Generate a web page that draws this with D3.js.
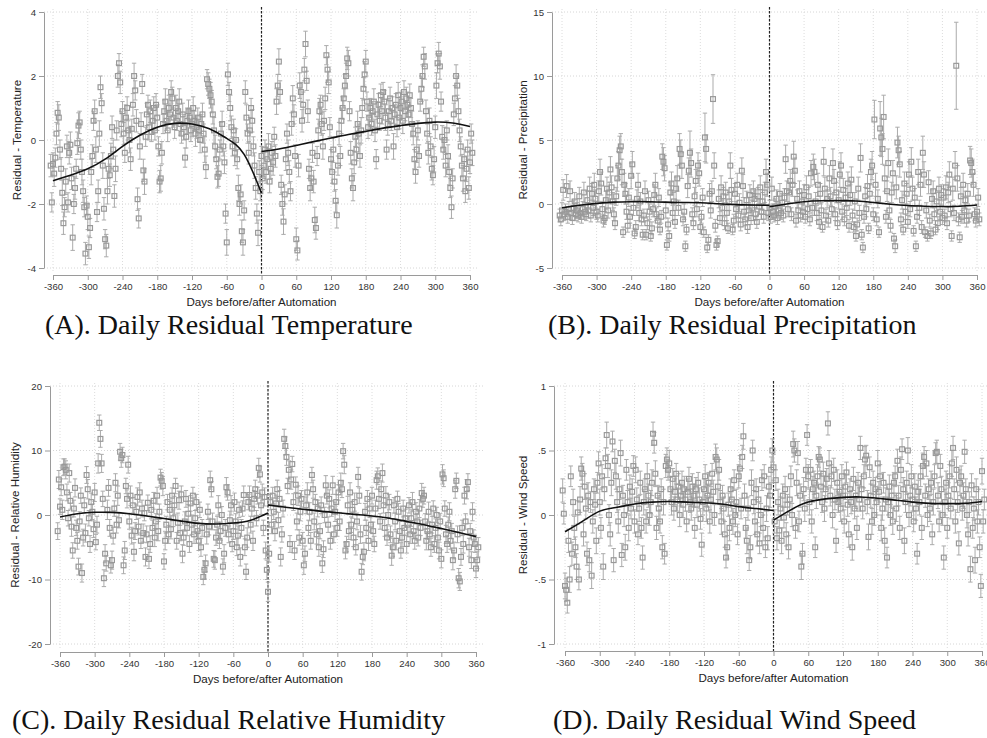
<!DOCTYPE html>
<html><head><meta charset="utf-8">
<script src="https://cdn.jsdelivr.net/npm/d3@7"></script>
<style>body{margin:0;background:#fff}svg{display:block}</style>
</head><body><svg id="chart" width="987" height="738"></svg>
<script>
// ---- axis ticks ----
const dayTicks = [-360,-300,-240,-180,-120,-60,0,60,120,180,240,300,360];
const tempTicks = [-4,-2,0,2,4];
const precipTicks = [-5,0,5,10,15];
const humidTicks = [-20,-10,0,10,20];
const windTicks = [-1,-0.5,0,0.5,1];
const windTickLabels = ["-1","-.5","0",".5","1"];

// ---- daily residuals, every second day; pre ends at day -2, post starts at day 0 ----
const tempPre = [
-0.8,-1.95,-0.75,-1.05,-0.55,0.2,0.85,0.7,-0.3,-0.9,-1.65,-2.6,-2.1,-1.3,-0.2,
-1.95,-0.4,-0.15,-1.2,-3.05,-2.0,-1.5,-0.9,-0.1,0.45,0.55,-0.3,-1.0,-1.6,-2.1,
-3.55,-2.05,-2.4,-3.35,-2.75,-1.0,-0.5,0.6,0.9,-0.3,-2.25,-1.6,0.2,1.65,1.15,
-0.8,-2.15,-3.1,-3.3,-1.6,-0.9,-1.1,-0.5,0.4,-0.3,-1.75,-0.9,0.3,2.0,2.4,
1.8,0.5,0.9,0.2,-0.4,0.7,1.0,0.3,0.0,-0.6,0.35,1.1,2.0,1.55,0.6,
-1.85,-2.45,-0.2,0.5,1.75,-0.95,-1.3,0.1,0.8,1.1,0.4,0.9,0.25,0.6,1.0,
0.3,1.1,0.7,-0.2,-1.3,-1.2,-0.4,0.5,0.9,1.2,0.6,0.3,1.0,0.8,1.5,
1.3,0.7,0.4,1.0,0.6,0.9,1.2,0.5,0.2,0.8,0.4,-0.55,0.1,0.6,0.9,
0.7,0.3,0.5,1.0,0.6,0.2,0.4,0.7,0.3,0.0,0.5,0.8,0.2,-0.3,-0.85,
1.9,1.75,1.6,1.4,1.2,0.8,0.3,-0.2,-0.6,-1.15,-1.05,-0.3,0.2,0.5,-0.2,
-0.7,-2.3,-3.2,2.05,1.5,1.0,0.4,-0.2,0.3,-0.4,0.0,-0.6,-1.5,-2.0,-1.7,
-2.85,-3.2,-2.2,1.5,0.7,0.2,-0.4,0.3,1.0,0.6,-0.2,-0.8,-1.5,-2.3,-2.9,
-1.0,-1.6];
const tempPost = [
-0.5,-1.2,-0.8,-0.3,-1.0,-0.6,-0.2,-1.3,-0.9,-0.4,-0.7,0.1,-0.5,1.2,1.7,
2.45,1.5,-1.4,-2.0,-2.55,-1.7,-0.6,0.2,-0.4,-1.0,-1.6,0.5,1.3,0.8,-0.5,
-3.1,-3.45,-0.8,1.7,1.5,0.6,1.1,2.2,3.0,1.85,0.9,-0.9,-1.5,-1.2,-0.4,
-1.3,-2.5,-2.75,-0.5,0.3,0.9,1.1,0.5,-0.2,0.6,1.3,2.65,2.2,1.8,0.4,
-0.6,-1.0,-0.3,-1.3,-1.9,-2.35,-0.8,0.2,-0.5,0.6,1.0,1.3,1.7,2.0,2.55,
2.4,0.9,-0.4,-1.2,-1.5,-0.7,0.1,-0.3,0.5,0.2,-0.5,0.3,1.0,1.6,2.05,
2.45,1.2,0.4,0.7,1.0,0.5,0.9,1.2,0.3,-0.6,0.8,1.1,0.6,1.4,0.9,
1.5,1.2,0.7,-0.3,0.5,0.9,1.3,0.6,1.0,-0.2,0.8,1.1,0.4,1.4,0.7,
1.0,1.2,0.6,1.5,0.9,1.3,1.1,0.8,1.4,1.0,0.5,0.2,-0.6,-1.0,-0.3,
0.3,-0.5,1.2,1.6,2.0,2.6,2.3,0.9,0.2,-0.4,0.6,-0.2,-0.9,-1.1,-0.6,
0.4,1.7,2.4,2.7,2.3,1.2,0.1,-0.3,0.0,-0.8,0.3,-0.5,-1.0,-1.5,-2.1,
-1.2,0.8,1.3,2.0,1.7,0.9,0.3,-0.2,-0.8,-1.2,-0.6,-1.6,-0.9,-0.3,-1.5,
-0.7,0.2,-0.4];
const tempPreCI = [
.35,.3,.35,.4,.3,.35,.35,.4,.3,.35,.4,.35,.3,.4,.35,
.3,.35,.4,.35,.4,.3,.35,.3,.35,.4,.35,.3,.4,.35,.3,
.35,.3,.4,.35,.3,.4,.35,.3,.35,.4,.3,.35,.4,.35,.3,
.4,.35,.3,.35,.4,.3,.35,.4,.35,.3,.35,.4,.3,.35,.3,
.35,.4,.3,.35,.3,.4,.35,.3,.4,.35,.3,.35,.4,.3,.35,
.35,.3,.4,.35,.3,.35,.4,.3,.35,.3,.4,.35,.3,.4,.35,
.3,.35,.4,.3,.35,.4,.35,.3,.35,.4,.3,.35,.4,.3,.35,
.35,.3,.35,.4,.3,.35,.4,.35,.3,.35,.4,.3,.35,.4,.35,
.3,.35,.4,.35,.3,.4,.35,.3,.35,.4,.3,.35,.3,.4,.35,
.3,.35,.3,.4,.35,.3,.4,.35,.3,.35,.4,.3,.35,.4,.3,
.35,.3,.4,.35,.3,.4,.35,.3,.35,.4,.35,.3,.4,.35,.3,
.35,.4,.3,.35,.4,.3,.35,.4,.3,.35,.3,.4,.35,.3,.4,
.35,.3];
const tempPostCI = [
.3,.35,.4,.3,.35,.3,.4,.35,.3,.35,.4,.3,.35,.4,.35,
.4,.35,.3,.35,.4,.3,.35,.3,.4,.35,.3,.35,.4,.3,.35,
.35,.3,.35,.4,.3,.35,.4,.35,.4,.3,.35,.3,.4,.35,.3,
.35,.4,.35,.3,.35,.4,.3,.35,.4,.3,.35,.3,.4,.35,.3,
.3,.35,.4,.3,.35,.4,.3,.35,.3,.4,.35,.3,.35,.4,.35,
.4,.3,.35,.3,.4,.35,.3,.35,.4,.3,.35,.4,.3,.35,.4,
.35,.3,.35,.4,.3,.35,.3,.4,.35,.3,.4,.35,.3,.35,.4,
.3,.35,.4,.3,.35,.4,.35,.3,.35,.4,.3,.35,.3,.4,.35,
.35,.3,.4,.35,.3,.35,.4,.3,.35,.3,.4,.35,.3,.35,.4,
.3,.35,.3,.4,.35,.3,.4,.35,.3,.35,.4,.3,.35,.3,.4,
.35,.4,.3,.35,.4,.3,.35,.3,.4,.35,.3,.35,.4,.3,.35,
.3,.35,.4,.35,.3,.4,.35,.3,.35,.4,.3,.35,.4,.3,.35,
.35,.3,.4];

const precipPre = [
-0.9,-1.2,-0.5,1.1,-0.8,-0.6,1.4,-1.0,-0.4,1.0,-0.7,-1.1,-0.3,0.2,-0.8,
-0.5,-0.9,0.6,-0.7,-1.0,-0.4,0.9,-0.6,-0.8,0.3,-0.5,1.2,-0.9,0.8,-0.3,
1.5,0.4,-0.6,-0.9,1.0,2.5,1.6,-0.4,-1.3,-1.1,0.3,1.2,-0.5,0.9,2.7,
1.3,0.2,-0.8,-1.5,0.6,2.0,3.0,4.2,4.5,2.5,-2.2,1.5,0.8,-0.6,-1.7,
0.5,-1.0,2.2,3.1,-0.3,-2.3,-1.8,0.4,1.5,-0.7,0.2,-1.2,-2.4,-0.9,1.0,
-2.4,-1.5,0.3,-0.6,-2.5,-1.9,-0.4,0.7,1.5,-0.8,-1.3,0.5,-2.0,-1.0,3.7,
3.3,2.8,-0.5,-3.2,-1.6,-2.5,0.9,1.6,-0.7,0.2,-1.4,1.2,2.0,-0.3,4.3,
3.9,3.0,-1.2,-0.6,-3.3,-2.0,1.4,2.6,4.0,3.2,-0.8,-1.5,0.6,1.8,-0.4,
3.0,2.4,-1.8,-1.0,0.5,-2.2,5.2,4.3,-3.4,-2.8,0.8,-0.5,1.0,8.2,3.0,
-1.7,-3.2,-2.9,0.4,-1.1,1.3,-0.3,0.6,-1.5,0.9,-0.7,-1.9,0.2,3.0,1.1,
-2.0,-1.3,0.8,-0.4,1.5,-0.9,0.1,-1.6,2.6,1.4,-0.6,-1.2,0.3,-1.8,-0.5,
0.7,-1.1,-0.3,1.0,0.4,-0.8,-1.4,0.6,-0.2,1.3,-0.6,0.2,-1.0,0.9,2.5,
1.5,-0.7];
const precipPost = [
-0.3,-1.0,1.2,-0.6,-0.9,-0.2,0.4,-1.1,-0.5,0.8,-0.7,0.1,-0.9,0.5,3.5,
1.0,-0.4,0.9,1.8,-0.8,1.5,3.7,2.6,-1.3,0.4,-0.5,1.0,-0.9,0.2,-0.6,
0.7,-1.0,1.3,-0.4,0.6,-1.2,2.4,-0.3,2.9,2.5,0.2,-0.7,1.5,-1.4,0.8,
-0.5,-1.8,3.3,1.2,-0.9,0.4,-1.3,2.0,0.6,-0.4,3.2,1.8,-0.8,0.9,-1.5,
0.3,2.3,3.0,-0.6,1.1,-1.2,0.5,-0.3,1.6,-1.7,0.7,1.9,-0.9,-1.8,0.2,
-2.5,-1.6,1.2,-0.7,3.6,-2.4,-3.4,-1.0,0.6,-0.4,1.4,-1.9,0.8,2.5,3.0,
-0.8,6.6,1.5,-1.2,0.4,-2.2,5.9,5.2,4.3,6.8,2.0,-1.0,1.0,3.2,-0.5,
-1.7,0.9,2.4,-2.7,-3.3,1.3,4.8,4.2,3.1,-1.2,0.3,-2.0,1.6,-0.6,0.8,
-1.4,2.3,-0.4,3.3,1.2,-2.1,0.5,-3.3,-1.0,2.5,-0.3,1.5,-1.8,4.0,2.3,
-2.2,-0.5,-2.5,1.7,-1.3,-2.3,0.4,1.0,-0.8,-2.0,0.2,-1.5,1.2,-0.6,0.7,
-1.1,0.5,-0.9,1.3,-1.5,0.9,2.3,-0.4,-2.5,1.2,-0.7,3.0,10.8,2.0,-1.2,
-2.6,0.6,-1.0,1.5,-0.5,0.3,-1.3,0.8,-0.9,3.4,3.2,2.5,1.5,-0.8,-1.3,
-0.6,0.5,-1.2];
const precipPreCI = [
.5,.5,.6,.8,.5,.6,.9,.5,.6,.8,.5,.5,.6,.7,.5,
.6,.5,.7,.5,.5,.6,.8,.6,.5,.7,.6,.9,.5,.8,.6,
.9,.7,.6,.5,.8,1.0,.9,.6,.5,.5,.7,.9,.6,.8,1.0,
.9,.7,.5,.5,.7,1.0,1.1,1.1,1.0,1.0,.4,.9,.8,.6,.5,
.7,.5,1.0,1.0,.6,.4,.5,.7,.9,.6,.7,.5,.4,.5,.8,
.4,.5,.7,.6,.4,.5,.6,.8,.9,.5,.5,.7,.4,.5,1.0,
1.1,1.0,.6,.4,.5,.4,.8,.9,.6,.7,.5,.9,1.0,.6,1.2,
1.1,1.0,.5,.6,.4,.4,.9,1.0,1.7,1.1,.5,.5,.7,.9,.6,
1.0,1.0,.5,.5,.7,.4,1.9,1.1,.4,.4,.8,.6,.8,1.9,1.0,
.5,.4,.4,.7,.5,.9,.6,.7,.5,.8,.6,.4,.7,1.0,.9,
.4,.5,.8,.6,.9,.5,.7,.5,1.0,.9,.6,.5,.7,.5,.6,
.8,.5,.6,.8,.7,.5,.5,.7,.6,.9,.6,.7,.5,.8,1.0,
.9,.6];
const precipPostCI = [
.6,.5,.9,.6,.5,.6,.7,.5,.6,.8,.5,.7,.5,.7,1.1,
.8,.6,.8,.9,.5,.9,1.2,1.0,.5,.7,.6,.8,.5,.7,.6,
.8,.5,.9,.6,.7,.5,1.0,.6,1.0,1.0,.7,.6,.9,.5,.8,
.6,.4,1.1,.9,.5,.7,.5,1.0,.7,.6,1.1,.9,.5,.8,.5,
.7,1.0,1.0,.6,.9,.5,.7,.6,.9,.5,.8,1.0,.5,.4,.7,
.4,.5,.9,.6,1.1,.4,.4,.5,.7,.6,.9,.4,.8,1.0,1.1,
.5,1.5,.9,.5,.7,.4,2.1,1.5,1.2,1.7,1.0,.5,.8,1.1,.6,
.5,.8,1.0,.4,.5,.9,1.2,1.1,1.0,.5,.7,.4,.9,.6,.8,
.5,1.0,.6,1.1,.9,.4,.7,.4,.5,1.0,.6,.9,.5,1.3,1.0,
.4,.6,.4,.9,.5,.4,.7,.8,.5,.4,.7,.5,.9,.6,.8,
.5,.7,.5,.9,.5,.8,1.0,.6,.4,.9,.6,1.1,3.4,1.0,.5,
.4,.7,.5,.9,.6,.7,.5,.8,.5,1.1,1.1,1.0,.9,.5,.5,
.6,.7,.5];

const humidPre = [
-2.5,5.5,1.3,4.3,0.8,7.4,7.5,7.0,3.5,-0.5,6.5,2.2,-1.8,-5.5,1.0,
4.2,-2.0,-4.0,-8.0,-1.0,3.0,-9.0,-3.5,1.5,-2.8,6.2,4.0,-0.5,-4.5,2.0,
0.5,-2.2,3.5,-4.2,-1.5,8.0,14.3,11.8,8.0,2.5,-9.8,-6.0,-7.5,0.8,4.2,
-2.0,-7.8,-7.0,-3.2,1.0,5.0,-1.5,3.0,-0.8,9.8,8.8,9.3,-7.8,-5.5,4.5,
2.5,7.8,-1.0,3.0,-3.2,1.5,-5.7,-2.5,0.5,2.8,-1.8,3.5,-4.0,1.0,-2.8,
0.3,-6.5,-3.0,1.9,-6.8,-4.5,0.8,-2.0,2.2,-3.5,-1.0,3.0,-2.5,0.5,5.8,
5.3,4.5,-7.2,-4.0,-1.5,2.0,-3.0,0.8,-2.2,3.0,-0.5,1.5,4.5,-4.0,-1.2,
2.3,-2.8,3.2,-6.0,-3.5,-1.0,2.5,-2.0,0.2,-4.5,1.8,-1.5,3.0,-3.0,-0.5,
2.0,-2.5,-4.0,0.8,-5.0,-2.0,-9.6,-8.5,-7.5,-3.0,0.5,-1.8,5.4,4.0,-1.0,
-6.8,-7.0,-3.5,-1.5,1.5,-4.0,-2.5,0.0,-8.0,-6.0,-2.0,4.3,3.5,-3.0,-0.8,
1.5,-4.5,-2.5,2.0,-1.0,-5.0,-3.2,0.8,-6.5,-2.0,1.0,3.1,-5.0,-8.8,-3.5,
2.0,3.1,-1.5,1.0,-4.0,2.5,4.0,-0.5,3.0,7.3,6.3,1.5,3.5,-2.0,2.8,
-5.5,-8.5];
const humidPost = [
-11.9,-6.0,2.0,-1.5,3.0,0.5,-2.5,1.8,4.0,-0.8,2.5,-6.5,-3.0,1.0,11.8,
10.7,9.0,4.5,7.0,-4.5,5.5,7.9,2.0,-5.5,4.7,-1.0,3.0,-3.5,0.5,2.5,
-4.0,-7.8,-6.0,1.5,3.5,-2.0,0.5,-4.0,6.2,4.0,-1.0,2.0,-3.0,1.0,-5.0,
-2.5,1.5,-7.5,-5.3,0.0,4.6,3.0,-1.5,2.5,-4.0,1.0,4.6,-3.0,0.5,2.0,
-2.0,3.5,-1.0,5.0,4.0,9.9,7.8,-5.5,-4.5,1.5,-2.5,3.5,-1.5,0.8,-3.5,
2.0,-5.0,-1.0,5.9,3.0,-3.0,-8.8,-6.5,-5.7,0.5,-2.0,2.5,-4.0,1.0,-1.5,
3.0,-2.5,-4.5,1.0,5.4,6.0,2.5,-1.0,4.0,6.5,1.5,-2.0,3.0,-3.5,0.0,
2.0,-3.0,-6.3,-5.0,1.5,-1.0,-4.0,2.5,0.5,-2.5,-5.5,-3.5,1.0,-2.0,-0.5,
-4.5,-1.5,1.5,-3.0,-0.5,2.0,-2.5,-4.0,0.5,-1.0,-3.5,1.0,-2.0,3.4,2.5,
3.0,-1.0,-4.0,-2.5,0.5,-3.0,-5.0,-1.5,1.0,-4.5,-2.0,0.0,-3.5,-5.5,-1.0,
-6.8,6.3,5.7,1.0,-3.0,-4.5,-1.5,0.5,-4.0,-2.5,-7.0,-5.5,4.0,5.3,-3.0,
-9.8,-10.3,-6.5,-2.0,-4.5,3.0,-1.0,4.0,5.1,-5.0,-2.5,-7.0,0.5,-3.5,-4.5,
-8.3,-7.0,-5.0];
const humidPreCI = [
1.3,1.4,1.2,1.3,1.5,1.3,1.2,1.4,1.3,1.2,1.4,1.3,1.5,1.2,1.3,
1.4,1.2,1.3,1.3,1.5,1.2,1.4,1.3,1.2,1.4,1.3,1.5,1.2,1.3,1.4,
1.2,1.3,1.4,1.2,1.3,1.5,1.2,1.3,1.4,1.2,1.3,1.4,1.2,1.5,1.3,
1.3,1.2,1.4,1.3,1.2,1.4,1.3,1.5,1.2,1.3,1.4,1.2,1.3,1.4,1.2,
1.4,1.3,1.2,1.5,1.3,1.2,1.4,1.3,1.2,1.4,1.3,1.5,1.2,1.3,1.4,
1.2,1.4,1.3,1.2,1.5,1.3,1.4,1.2,1.3,1.4,1.2,1.3,1.5,1.2,1.3,
1.3,1.5,1.2,1.4,1.3,1.2,1.4,1.3,1.5,1.2,1.3,1.4,1.2,1.3,1.5,
1.4,1.2,1.3,1.4,1.2,1.5,1.3,1.2,1.4,1.3,1.2,1.5,1.3,1.4,1.2,
1.2,1.3,1.5,1.2,1.4,1.3,1.2,1.4,1.3,1.5,1.2,1.3,1.4,1.2,1.3,
1.3,1.4,1.2,1.3,1.5,1.2,1.4,1.3,1.2,1.4,1.3,1.5,1.2,1.3,1.4,
1.5,1.2,1.3,1.4,1.2,1.3,1.5,1.2,1.4,1.3,1.2,1.4,1.3,1.2,1.5,
1.2,1.4,1.3,1.2,1.5,1.3,1.4,1.2,1.3,1.5,1.2,1.4,1.3,1.2,1.4,
1.3,1.5];
const humidPostCI = [
1.5,1.3,1.2,1.4,1.3,1.2,1.5,1.3,1.4,1.2,1.3,1.4,1.2,1.3,1.5,
1.4,1.3,1.2,1.4,1.3,1.5,1.2,1.3,1.4,1.2,1.3,1.5,1.2,1.4,1.3,
1.3,1.4,1.2,1.3,1.5,1.2,1.4,1.3,1.2,1.4,1.3,1.2,1.5,1.3,1.4,
1.2,1.3,1.4,1.3,1.2,1.5,1.3,1.2,1.4,1.3,1.2,1.4,1.3,1.5,1.2,
1.3,1.2,1.4,1.5,1.3,1.2,1.4,1.3,1.2,1.4,1.3,1.5,1.2,1.3,1.4,
1.4,1.2,1.3,1.5,1.2,1.4,1.3,1.2,1.4,1.3,1.2,1.3,1.5,1.4,1.2,
1.3,1.4,1.2,1.3,1.4,1.3,1.5,1.2,1.3,1.4,1.2,1.3,1.4,1.2,1.5,
1.2,1.3,1.5,1.4,1.2,1.3,1.4,1.2,1.3,1.5,1.2,1.4,1.3,1.2,1.4,
1.4,1.3,1.2,1.4,1.3,1.5,1.2,1.3,1.4,1.2,1.3,1.4,1.2,1.5,1.3,
1.3,1.2,1.4,1.3,1.5,1.2,1.4,1.3,1.2,1.3,1.4,1.2,1.5,1.3,1.2,
1.4,1.5,1.3,1.2,1.4,1.3,1.2,1.4,1.3,1.2,1.5,1.3,1.4,1.2,1.3,
1.5,1.4,1.3,1.2,1.4,1.3,1.2,1.5,1.3,1.4,1.2,1.3,1.4,1.2,1.3,
1.4,1.3,1.5];

const windPre = [
0.19,0.01,-0.55,-0.58,-0.68,-0.2,-0.5,0.3,-0.3,0.1,-0.1,-0.25,-0.4,0.02,-0.5,
0.12,0.36,0.32,-0.15,0.22,0.05,-0.3,0.15,-0.35,0.1,-0.47,-0.05,0.2,0.08,-0.2,
0.25,0.4,0.1,-0.1,0.3,-0.4,0.2,0.44,0.62,0.38,0.0,-0.15,0.25,0.57,-0.35,
0.42,0.3,0.1,-0.05,0.2,0.48,-0.31,0.15,0.0,-0.25,0.35,0.1,-0.1,0.22,0.05,
0.18,0.38,-0.05,0.35,0.12,-0.15,0.05,0.25,-0.1,-0.33,0.1,0.2,-0.05,0.3,0.15,
0.0,0.1,0.25,0.63,0.56,0.32,-0.1,0.15,0.05,-0.05,0.2,-0.25,0.1,-0.3,0.38,
0.43,0.35,0.4,0.2,0.1,0.28,0.05,0.18,0.32,0.12,0.22,0.0,0.15,0.25,0.08,
0.2,0.12,-0.05,0.18,0.28,0.1,0.05,0.22,0.15,-0.1,0.2,0.08,0.25,0.12,-0.03,
-0.23,0.1,0.2,0.3,0.05,0.15,0.25,-0.05,0.12,0.32,0.18,0.0,0.45,0.43,0.22,
0.35,0.1,-0.05,0.15,0.05,-0.15,-0.33,-0.25,0.08,-0.1,0.2,0.12,-0.05,0.27,0.0,
0.1,-0.15,0.3,0.36,0.05,0.45,0.61,0.15,-0.1,-0.2,0.05,-0.35,-0.25,0.25,0.5,
0.1,-0.05,0.2,-0.15,0.12,-0.22,0.0,0.27,-0.1,0.3,-0.25,0.05,-0.18,0.22,0.15,
0.35,0.5];
const windPost = [
0.37,-0.05,0.27,-0.18,0.1,-0.12,0.05,-0.2,0.15,-0.02,0.2,-0.15,0.08,-0.25,0.12,
0.3,0.0,0.55,0.5,-0.1,0.25,0.48,-0.05,0.15,-0.4,-0.3,0.2,0.05,0.35,0.62,
0.3,0.1,0.35,-0.05,0.2,0.25,-0.25,0.15,0.3,0.45,0.43,0.22,0.1,0.32,0.05,
0.2,0.28,0.71,0.4,0.15,0.3,0.0,0.35,0.12,-0.2,0.25,0.1,0.18,0.05,0.3,
0.15,-0.05,0.22,0.33,0.08,-0.15,0.2,0.1,-0.25,0.28,0.05,0.15,-0.1,0.25,0.12,
0.52,0.2,0.05,0.3,0.43,0.46,0.1,-0.17,0.37,0.15,-0.05,0.25,0.0,0.2,0.1,
0.4,0.18,0.3,-0.1,0.05,0.25,-0.2,0.12,-0.33,0.1,0.22,0.0,0.15,-0.05,0.25,
0.3,0.05,0.42,0.15,-0.1,0.35,0.51,0.2,-0.2,0.1,0.25,0.5,0.0,0.15,0.3,
0.12,-0.05,0.22,0.05,-0.3,0.18,0.1,0.3,-0.1,0.38,0.45,0.15,0.4,0.0,0.2,
0.05,0.25,-0.15,0.1,0.3,0.48,0.49,0.15,-0.05,0.38,0.2,0.0,-0.33,0.1,0.25,
-0.1,0.15,0.3,0.05,0.4,0.52,0.2,-0.05,0.35,0.1,-0.22,0.25,0.3,0.05,0.15,
0.49,0.2,0.0,-0.15,0.1,-0.42,0.23,-0.1,0.05,-0.35,0.2,-0.05,0.1,-0.25,-0.55,
0.34,-0.05,0.12];
const windPreCI = [
.09,.08,.1,.09,.08,.09,.1,.08,.09,.1,.09,.08,.1,.09,.08,
.1,.09,.08,.09,.1,.08,.09,.1,.09,.08,.1,.09,.08,.09,.1,
.08,.09,.1,.08,.09,.1,.09,.08,.1,.09,.08,.09,.1,.08,.09,
.09,.1,.08,.09,.08,.1,.09,.08,.09,.1,.08,.09,.1,.09,.08,
.1,.08,.09,.1,.09,.08,.1,.09,.08,.09,.1,.08,.09,.1,.09,
.08,.09,.1,.09,.08,.1,.09,.08,.1,.09,.08,.09,.1,.08,.09,
.09,.08,.1,.09,.1,.08,.09,.1,.08,.09,.1,.09,.08,.09,.1,
.1,.09,.08,.1,.09,.08,.09,.1,.09,.08,.09,.1,.08,.09,.08,
.09,.1,.08,.09,.1,.09,.08,.09,.1,.08,.09,.08,.1,.09,.1,
.08,.09,.1,.08,.09,.1,.08,.09,.09,.1,.08,.09,.1,.08,.09,
.1,.08,.09,.1,.08,.09,.1,.09,.08,.1,.09,.08,.09,.1,.08,
.09,.1,.08,.09,.1,.08,.09,.08,.1,.09,.08,.1,.09,.08,.09,
.1,.09];
const windPostCI = [
.1,.09,.08,.09,.1,.08,.09,.1,.09,.08,.1,.09,.08,.09,.1,
.08,.09,.1,.09,.08,.1,.09,.08,.09,.1,.08,.09,.1,.09,.08,
.09,.1,.08,.09,.1,.09,.08,.1,.09,.08,.09,.1,.08,.09,.1,
.1,.08,.09,.1,.08,.09,.1,.09,.08,.09,.1,.08,.09,.1,.09,
.08,.09,.1,.08,.09,.1,.08,.09,.1,.09,.08,.1,.09,.08,.09,
.09,.1,.08,.09,.1,.08,.09,.1,.08,.09,.1,.09,.08,.09,.1,
.1,.08,.09,.1,.09,.08,.1,.09,.08,.1,.09,.08,.09,.1,.08,
.08,.1,.09,.08,.09,.1,.08,.09,.1,.08,.09,.1,.09,.08,.09,
.09,.08,.1,.09,.08,.09,.1,.08,.09,.1,.08,.09,.1,.09,.08,
.1,.09,.08,.1,.09,.08,.09,.1,.08,.09,.1,.08,.09,.1,.09,
.08,.1,.09,.08,.1,.09,.08,.09,.1,.08,.09,.1,.08,.09,.1,
.09,.08,.1,.09,.08,.1,.09,.08,.09,.1,.08,.09,.1,.08,.09,
.1,.09,.08];

// ---- fitted trends on each side of the cutoff ----
const fitDaysPre = [-360,-330,-300,-270,-240,-210,-180,-150,-120,-90,-60,-30,0];
const fitDaysPost = [0,30,60,90,120,150,180,210,240,270,300,330,360];
const tempFitPre = [-1.27,-1.1,-0.9,-0.6,-0.2,0.15,0.4,0.52,0.5,0.35,0.05,-0.45,-1.66];
const tempFitPost = [-0.36,-0.28,-0.17,-0.05,0.06,0.17,0.27,0.37,0.45,0.52,0.56,0.53,0.42];
const precipFitPre = [-0.29,-0.1,0.05,0.15,0.18,0.18,0.15,0.12,0.1,0.02,-0.05,-0.08,-0.1];
const precipFitPost = [-0.22,0.0,0.18,0.25,0.26,0.23,0.12,-0.02,-0.12,-0.17,-0.2,-0.18,-0.08];
const humidFitPre = [-0.3,0.2,0.42,0.4,0.2,-0.15,-0.55,-0.95,-1.3,-1.4,-1.25,-0.8,0.3];
const humidFitPost = [1.55,1.2,0.9,0.6,0.35,0.1,-0.15,-0.5,-1.0,-1.5,-2.1,-2.7,-3.35];
const windFitPre = [-0.13,-0.05,0.03,0.06,0.085,0.1,0.105,0.1,0.095,0.085,0.065,0.05,0.035];
const windFitPost = [-0.04,0.04,0.1,0.125,0.137,0.14,0.13,0.115,0.1,0.09,0.088,0.09,0.105];

// ---- drawing ----
const svg = d3.select("#chart");
const SANS = "'Liberation Sans', Arial, sans-serif";
const SERIF = "'Liberation Serif', 'Times New Roman', serif";

function buildPoints(pre, preCI, post, postCI) {
  const pts = [];
  pre.forEach((v, i) => pts.push({day: -2 * (pre.length - i), v, e: preCI[i]}));
  post.forEach((v, i) => pts.push({day: 2 * i, v, e: postCI[i]}));
  return pts;
}

function drawPanel(p) {
  const x = d3.scaleLinear().domain([-360, 360]).range([p.xl, p.xr]);
  const y = d3.scaleLinear().domain([p.ticks[0], p.ticks[p.ticks.length - 1]]).range([p.yb, p.yt]);
  const g = svg.append("g");

  // dotted grid
  g.append("g").selectAll("line").data(p.ticks).join("line")
    .attr("x1", p.axisX).attr("x2", x(374))
    .attr("y1", d => y(d)).attr("y2", d => y(d))
    .attr("stroke", "#d6d6d6").attr("stroke-width", 1).attr("stroke-dasharray", "1,2");
  g.append("g").selectAll("line").data(dayTicks).join("line")
    .attr("x1", d => x(d)).attr("x2", d => x(d))
    .attr("y1", p.yt - 3).attr("y2", p.yb + 4)
    .attr("stroke", "#dcdcdc").attr("stroke-width", 1).attr("stroke-dasharray", "1,2");

  // axes
  const yAxis = d3.axisLeft(y).tickValues(p.ticks)
    .tickFormat((d, i) => p.labels[i]).tickSize(5).tickSizeOuter(0).tickPadding(3);
  const ya = g.append("g").attr("transform", `translate(${p.axisX},0)`).call(yAxis);
  const xAxis = d3.axisBottom(x).tickValues(dayTicks)
    .tickFormat(d => String(d)).tickSize(5).tickSizeOuter(0).tickPadding(3);
  const xa = g.append("g").attr("transform", `translate(0,${p.axisY})`).call(xAxis);
  [ya, xa].forEach(a => {
    a.select(".domain").attr("stroke", "#9a9a9a");
    a.selectAll(".tick line").attr("stroke", "#9a9a9a");
    a.selectAll(".tick text").attr("fill", "#333").attr("font-size", "9.6px").attr("font-family", SANS);
  });

  // cutoff at day 0
  g.append("line").attr("x1", x(0)).attr("x2", x(0))
    .attr("y1", p.yt - 5).attr("y2", p.axisY)
    .attr("stroke", "#222").attr("stroke-width", 1.2).attr("stroke-dasharray", "2.5,1.5");

  // confidence intervals, then markers
  const pts = buildPoints(p.pre, p.preCI, p.post, p.postCI);
  g.append("path")
    .attr("d", pts.map(d => {
      const cx = x(d.day), lo = y(d.v - d.e), hi = y(d.v + d.e);
      return `M${cx - 2.2},${hi}H${cx + 2.2}M${cx},${hi}V${lo}M${cx - 2.2},${lo}H${cx + 2.2}`;
    }).join(""))
    .attr("fill", "none").attr("stroke", "#ababab").attr("stroke-width", 1);
  g.append("g").selectAll("rect").data(pts).join("rect")
    .attr("x", d => x(d.day) - 2.4).attr("y", d => y(d.v) - 2.4)
    .attr("width", 4.8).attr("height", 4.8)
    .attr("fill", "none").attr("stroke", "#999").attr("stroke-width", 1.2);

  // fitted trends
  const line = d3.line().x(d => x(d[0])).y(d => y(d[1])).curve(d3.curveNatural);
  [[fitDaysPre, p.fitPre], [fitDaysPost, p.fitPost]].forEach(([days, vals]) => {
    g.append("path").attr("d", line(days.map((d, i) => [d, vals[i]])))
      .attr("fill", "none").attr("stroke", "#111").attr("stroke-width", 1.6);
  });

  // titles
  g.append("text").attr("x", x(0)).attr("y", p.axisY + 31)
    .attr("text-anchor", "middle").attr("font-family", SANS).attr("font-size", "11.6px")
    .attr("fill", "#222").text("Days before/after Automation");
  g.append("text").attr("transform", `translate(${p.ytX},${(p.yt + p.yb) / 2}) rotate(-90)`)
    .attr("text-anchor", "middle").attr("dy", "0.35em").attr("font-family", SANS).attr("font-size", "11.6px")
    .attr("fill", "#222").text(p.ytitle);
  svg.append("text").attr("x", p.capX).attr("y", p.capY)
    .attr("font-family", SERIF).attr("font-size", "28px").attr("fill", "#111").text(p.caption);
}

const panelSpecs = [
  {pre: tempPre, preCI: tempPreCI, post: tempPost, postCI: tempPostCI, fitPre: tempFitPre, fitPost: tempFitPost,
   ticks: tempTicks, labels: tempTicks.map(String), ytitle: "Residual - Temperature",
   caption: "(A). Daily Residual Temperature",
   xl: 53, xr: 470, yt: 12, yb: 268, axisX: 44, axisY: 275, ytX: 17, capX: 45, capY: 334},
  {pre: precipPre, preCI: precipPreCI, post: precipPost, postCI: precipPostCI, fitPre: precipFitPre, fitPost: precipFitPost,
   ticks: precipTicks, labels: precipTicks.map(String), ytitle: "Residual - Precipitation",
   caption: "(B). Daily Residual Precipitation",
   xl: 562, xr: 977, yt: 12, yb: 268, axisX: 552, axisY: 275, ytX: 523, capX: 548, capY: 334},
  {pre: humidPre, preCI: humidPreCI, post: humidPost, postCI: humidPostCI, fitPre: humidFitPre, fitPost: humidFitPost,
   ticks: humidTicks, labels: humidTicks.map(String), ytitle: "Residual - Relative Humidity",
   caption: "(C). Daily Residual Relative Humidity",
   xl: 60, xr: 476, yt: 386, yb: 644, axisX: 50, axisY: 652, ytX: 15, capX: 12, capY: 729},
  {pre: windPre, preCI: windPreCI, post: windPost, postCI: windPostCI, fitPre: windFitPre, fitPost: windFitPost,
   ticks: windTicks, labels: windTickLabels, ytitle: "Residual - Wind Speed",
   caption: "(D). Daily Residual Wind Speed",
   xl: 565, xr: 982, yt: 386, yb: 644, axisX: 554, axisY: 651, ytX: 523, capX: 553, capY: 729}
];
panelSpecs.forEach(drawPanel);
</script>
</body></html>
